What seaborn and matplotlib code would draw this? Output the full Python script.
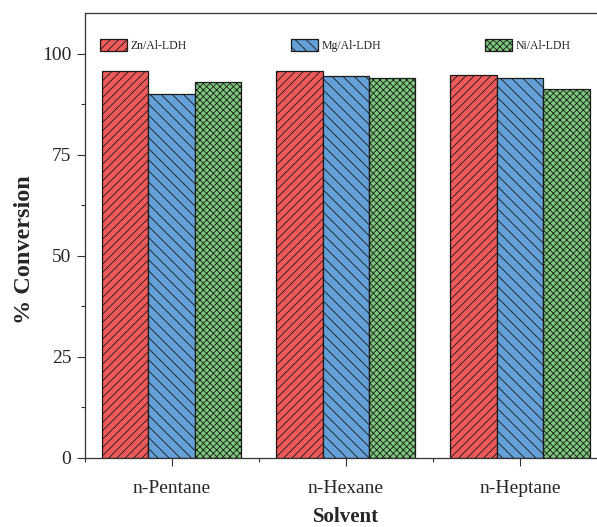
import matplotlib
matplotlib.use("Agg")
import matplotlib.pyplot as plt
import seaborn as sns
import pandas as pd
from matplotlib.ticker import MultipleLocator, FixedLocator

solvents = ["n-Pentane", "n-Hexane", "n-Heptane"]
catalysts = ["Zn/Al-LDH", "Mg/Al-LDH", "Ni/Al-LDH"]
zn_values = [95.6, 95.8, 94.8]
mg_values = [90.1, 94.6, 94.1]
ni_values = [93.0, 94.1, 91.3]

colors = ["#F05A5A", "#64A0D7", "#7CC87C"]
hatches = ["////", "\\\\\\", "xxxxx"]

rows = []
for cat, vals in zip(catalysts, [zn_values, mg_values, ni_values]):
    for s, v in zip(solvents, vals):
        rows.append({"Solvent": s, "Catalyst": cat, "Conversion": v})
df = pd.DataFrame(rows)

sns.set_style("ticks")
plt.rcParams["font.family"] = ["Liberation Serif", "DejaVu Serif"]
plt.rcParams["hatch.linewidth"] = 0.6
plt.rcParams["hatch.color"] = "#222222"

fig = plt.figure(figsize=(5.97, 5.27), dpi=100)
ax = fig.add_axes([84.5 / 597, (527 - 457.7) / 527, 522.6 / 597, 444.4 / 527])

sns.barplot(data=df, x="Solvent", y="Conversion", hue="Catalyst",
            order=solvents, hue_order=catalysts, palette=colors, saturation=1,
            width=0.8, edgecolor="#1a1a1a", linewidth=0.9, ax=ax, legend=False)

for container, h in zip(ax.containers, hatches):
    for bar in container:
        bar.set_hatch(h)

handles = [c.patches[0] for c in ax.containers]
leg = ax.legend(handles, catalysts, loc="upper left", bbox_to_anchor=(0.02, 0.952),
                ncol=3, frameon=False, fontsize=8.5, handlelength=2.3,
                handleheight=1.1, handletextpad=0.3, columnspacing=8.8,
                borderaxespad=0)

ax.set_xlim(-0.5, 2.5)
ax.set_ylim(0, 110)
ax.yaxis.set_major_locator(FixedLocator([0, 25, 50, 75, 100]))
ax.yaxis.set_minor_locator(MultipleLocator(12.5))
ax.xaxis.set_minor_locator(FixedLocator([-0.5, 0.5, 1.5]))
ax.tick_params(axis="both", which="major", direction="out", length=6, width=0.8,
               labelsize=14, color="#333333")
ax.tick_params(axis="x", which="major", pad=10)
ax.tick_params(axis="both", which="minor", direction="out", length=3, width=0.8,
               color="#333333")

for side in ["left", "bottom", "top", "right"]:
    ax.spines[side].set_visible(True)
    ax.spines[side].set_linewidth(0.9)
    ax.spines[side].set_color("#333333")

ax.set_xlabel("Solvent", fontsize=15, fontweight="bold", va="center")
ax.xaxis.set_label_coords(0.5, -(517.5 - 457.7) / 444.4)
ax.set_ylabel("% Conversion", fontsize=17.5, fontweight="bold", va="center")
ax.yaxis.set_label_coords((25 - 84.5) / 522.6, (457.7 - 250) / 444.4)

fig.savefig("out.png", dpi=100)
